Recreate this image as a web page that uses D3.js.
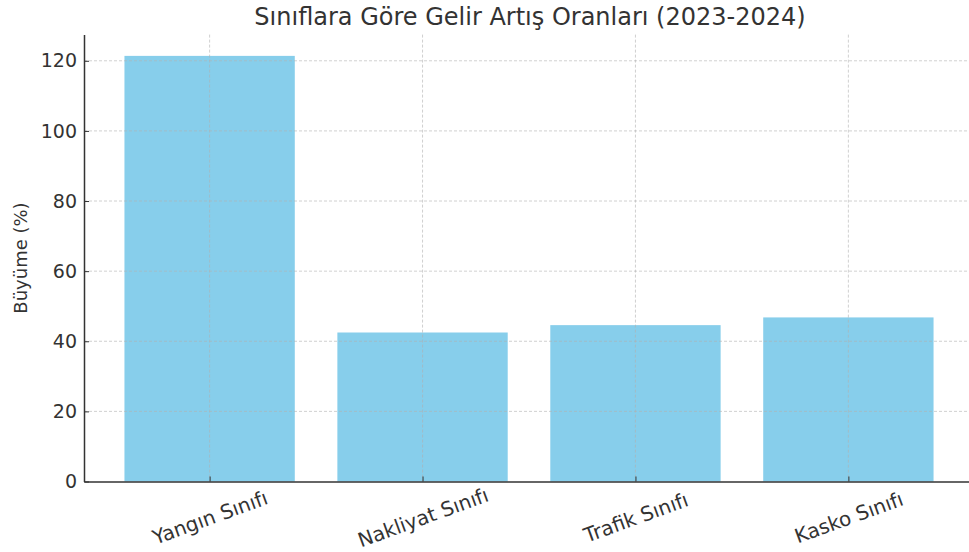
<!DOCTYPE html>
<html>
<head>
<meta charset="utf-8">
<script src="https://cdn.jsdelivr.net/npm/d3@7"></script>
<style>
  body { margin: 0; background: #fff; }
  svg { display: block; }
</style>
</head>
<body>
<svg id="chart" width="969" height="552"></svg>
<script>
var categories = [ "Yangın Sınıfı", "Nakliyat Sınıfı", "Trafik Sınıfı", "Kasko Sınıfı" ];
var growth = [ 121.4, 42.5, 44.6, 46.8 ];
var yTicks = [ 0, 20, 40, 60, 80, 100, 120 ];
var title = "Sınıflara Göre Gelir Artış Oranları (2023-2024)";
var yLabel = "Büyüme (%)";

var font = "'DejaVu Sans', sans-serif";
var ink = "#333";

var svg = d3.select( "#chart" );
var margin = { left: 84, top: 34.6, bottom: 70.5 };
var width = 974 - margin.left;
var height = 552 - margin.top - margin.bottom;

var g = svg.append( "g" )
    .attr( "transform", "translate(" + margin.left + "," + margin.top + ")" );

// matplotlib-ish limits: bars 0.8 wide, 5% margins
var n = categories.length;
var lo = -0.4 - 0.05 * ( n - 1 + 0.8 );
var hi = n - 1 + 0.4 + 0.05 * ( n - 1 + 0.8 );
var x = d3.scaleLinear().domain( [ lo, hi ] ).range( [ 0, width ] );
var y = d3.scaleLinear().domain( [ 0, d3.max( growth ) * 1.05 ] ).range( [ height, 0 ] );

// bars
g.selectAll( "rect.bar" )
    .data( growth )
    .enter().append( "rect" )
    .attr( "class", "bar" )
    .attr( "x", function ( d, i ) { return x( i - 0.4 ) } )
    .attr( "width", function ( d, i ) { return x( i + 0.4 ) - x( i - 0.4 ) } )
    .attr( "y", function ( d ) { return y( d ) } )
    .attr( "height", function ( d ) { return height - y( d ) } )
    .style( "fill", "#87ceeb" );

// grid on top of bars
g.selectAll( "line.hgrid" )
    .data( yTicks.slice( 1 ) )
    .enter().append( "line" )
    .attr( "x1", 0 ).attr( "x2", width )
    .attr( "y1", function ( d ) { return y( d ) } )
    .attr( "y2", function ( d ) { return y( d ) } )
    .style( "stroke", "#b0b0b0" )
    .style( "stroke-opacity", 0.6 )
    .style( "stroke-dasharray", "3,2" );

g.selectAll( "line.vgrid" )
    .data( categories )
    .enter().append( "line" )
    .attr( "x1", function ( d, i ) { return x( i ) } )
    .attr( "x2", function ( d, i ) { return x( i ) } )
    .attr( "y1", 0 ).attr( "y2", height )
    .style( "stroke", "#b0b0b0" )
    .style( "stroke-opacity", 0.6 )
    .style( "stroke-dasharray", "3,2" );

// y axis
var yAxis = g.append( "g" )
    .call( d3.axisLeft( y ).tickValues( yTicks ).tickSizeInner( -5 ).tickSizeOuter( 0 ).tickPadding( 7 ) );
yAxis.select( ".domain" ).style( "stroke", ink ).style( "stroke-width", 1.5 );
yAxis.selectAll( ".tick line" ).style( "stroke", ink );
yAxis.selectAll( "text" )
    .style( "font-size", "19px" )
    .style( "fill", ink )
    .style( "font-family", font );

// x axis
var xAxis = g.append( "g" )
    .attr( "transform", "translate(0," + height + ")" )
    .call( d3.axisBottom( x ).tickValues( d3.range( n ) ).tickSizeInner( -5 ).tickSizeOuter( 0 ).tickFormat( function () { return "" } ) );
xAxis.select( ".domain" ).style( "stroke", ink ).style( "stroke-width", 1.5 );
xAxis.selectAll( ".tick line" ).style( "stroke", ink );

// rotated category labels, centred on the tick
xAxis.selectAll( ".tick" )
    .append( "text" )
    .text( function ( d ) { return categories[ d ] } )
    .attr( "text-anchor", "middle" )
    .attr( "dominant-baseline", "central" )
    .attr( "transform", "translate(0,36) rotate(-20)" )
    .style( "font-family", font )
    .style( "font-size", "20px" )
    .style( "fill", ink );

// title
svg.append( "text" )
    .attr( "x", 530 )
    .attr( "y", 25 )
    .attr( "text-anchor", "middle" )
    .style( "font-family", font )
    .style( "font-size", "24px" )
    .style( "fill", ink )
    .text( title );

// y label
svg.append( "text" )
    .attr( "transform", "translate(27," + ( margin.top + height / 2 ) + ") rotate(-90)" )
    .attr( "text-anchor", "middle" )
    .style( "font-family", font )
    .style( "font-size", "18px" )
    .style( "fill", ink )
    .text( yLabel );
</script>
</body>
</html>
